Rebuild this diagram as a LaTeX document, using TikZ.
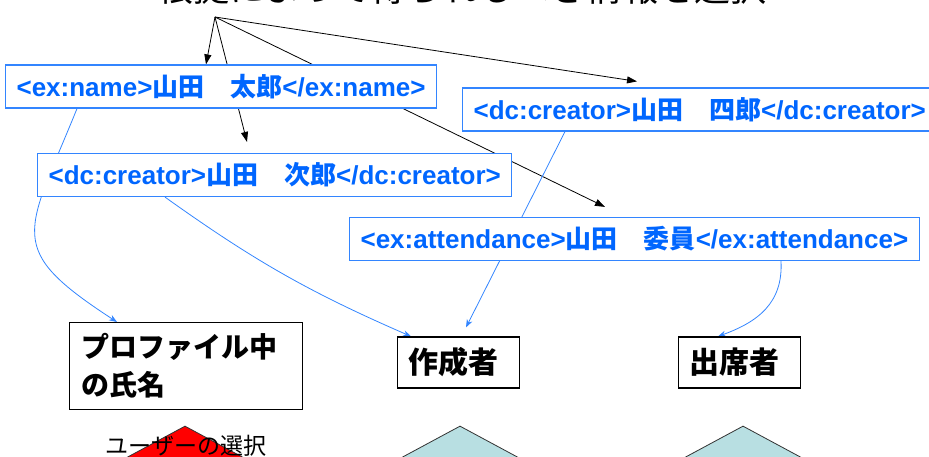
\documentclass[tikz,border=0pt]{standalone}
\usepackage{fontspec}
\setmainfont{Liberation Sans}
\newfontfamily\jpfont{Noto Sans CJK JP}
\usetikzlibrary{positioning}
\usetikzlibrary{shapes.geometric}
\usetikzlibrary{arrows.meta}
\usetikzlibrary{backgrounds}
\definecolor{tagblue}{RGB}{0,102,255}
\definecolor{tagline}{RGB}{51,133,255}
\definecolor{pickteal}{RGB}{184,223,226}
\tikzset{tagbox/.style={rectangle, draw=tagline, fill=white, line width=1.2pt, text=tagblue, font=\fontsize{26}{30}\selectfont\bfseries, inner xsep=11pt, minimum height=43pt}}
\tikzset{rolebox/.style={rectangle, draw=black, fill=white, line width=1.2pt, font=\jpfont\bfseries\fontsize{28}{38}\selectfont, inner xsep=12pt, minimum height=51pt, align=left}}
\tikzset{pick/.style={diamond, draw=black!80, line width=0.8pt, minimum width=260pt, minimum height=140pt, inner sep=0pt}}
\tikzset{guess/.style={-{Triangle[length=10pt,width=7pt]}, line width=0.8pt}}
\tikzset{maps/.style={-{Stealth[length=8pt,width=6pt]}, draw=tagline, line width=0.8pt}}
\newcommand{\jp}[1]{{\jpfont #1}}

\begin{document}
\begin{tikzpicture}[x=1pt, y=1pt]
    \useasboundingbox (0,0) rectangle (929,-457);

    \node[font=\jpfont\fontsize{36}{40}\selectfont, anchor=base] (heading) at (462,-2) {根拠によって得られるべき情報を選択};
    \coordinate (src) at (215,-17);

    \node[tagbox, anchor=west] (exname)     at (5,-86.5)    {<ex:name>\jp{山田　太郎}</ex:name>};
    \node[tagbox, anchor=west] (creatorB)   at (37,-175)    {<dc:creator>\jp{山田　次郎}</dc:creator>};
    \node[tagbox, anchor=west] (creatorD)   at (462,-109.5) {<dc:creator>\jp{山田　四郎}</dc:creator>};
    \node[tagbox, anchor=west] (attendance) at (349,-239)   {<ex:attendance>\jp{山田　委員}</ex:attendance>};

    \node[rolebox, anchor=north west, text width=209pt, minimum height=87pt] (profile) at (69,-322) {プロファイル中\\の氏名};
    \node[rolebox, anchor=west, text width=100pt, inner xsep=11pt, font=\jpfont\bfseries\fontsize{30}{36}\selectfont] (sakusei)  at (397,-362.5) {作成者};
    \node[rolebox, anchor=west, text width=100pt, inner xsep=11pt, font=\jpfont\bfseries\fontsize{30}{36}\selectfont] (shusseki) at (678,-362.5) {出席者};

    \node[pick, fill=red]      (pickA) at (185,-496) {};
    \node[pick, fill=pickteal] (pickB) at (460,-496) {};
    \node[pick, fill=pickteal] (pickC) at (743,-496) {};
    \node[font=\jpfont\fontsize{23}{26}\selectfont] (userpick) at (186,-446) {ユーザーの選択};

    \begin{scope}[on background layer]
    % candidates
    \draw[guess] (src) -- ([xshift=201pt]exname.north west);
    \draw[guess] (src) -- ([xshift=210pt,yshift=11pt]creatorB.north west);
    \draw[guess] (src) -- ([xshift=256pt,yshift=10pt]attendance.north west);
    \draw[guess] (src) -- ([xshift=175pt,yshift=6pt]creatorD.north west);
    % mappings
    \draw[maps] ([xshift=72pt]exname.south west) to[out=-112, in=147, looseness=1.6] ([xshift=48pt]profile.north west);
    \draw[maps] ([xshift=128pt]creatorB.south west) to[bend right=6] ([xshift=14pt]sakusei.north west);
    \draw[maps] ([xshift=103pt]creatorD.south west) -- ([xshift=69pt,yshift=9pt]sakusei.north west);
    \draw[maps] ([xshift=432pt]attendance.south west) to[out=-87, in=20, looseness=1.1] ([xshift=40pt]shusseki.north west);
    \end{scope}
\end{tikzpicture}
\end{document}
